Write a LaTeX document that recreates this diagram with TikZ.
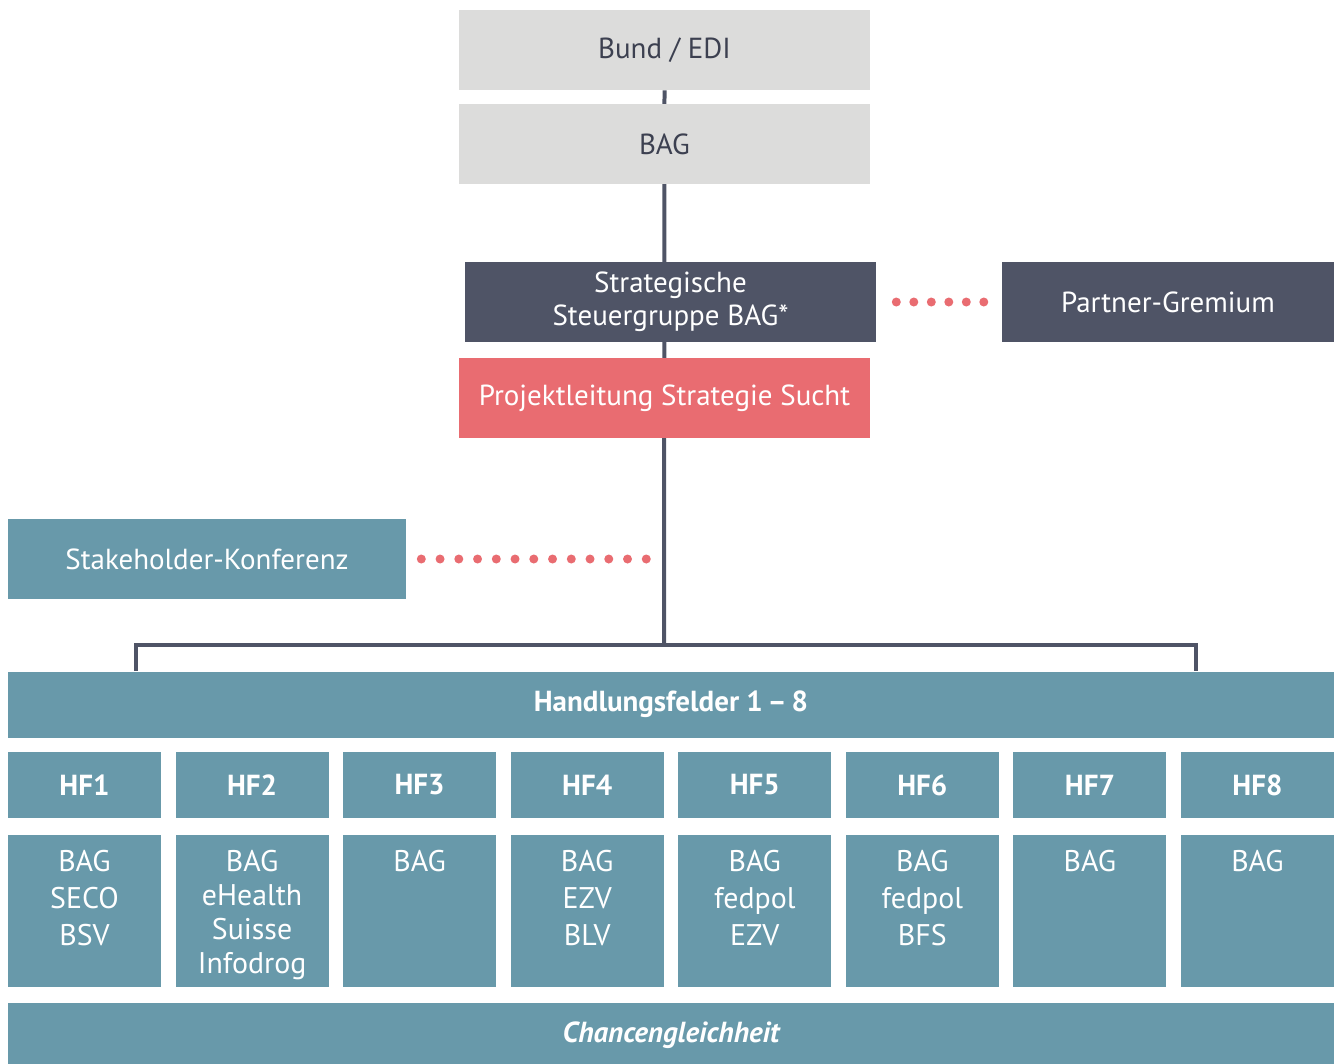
\documentclass[tikz,border=0pt]{standalone}
\usepackage{fontspec}
\setmainfont{PT Sans}
\usetikzlibrary{backgrounds}

\definecolor{boxgray}{HTML}{DCDCDB}
\definecolor{darkslate}{HTML}{4F5466}
\definecolor{salmon}{HTML}{E96C71}
\definecolor{teal}{HTML}{6899AA}
\definecolor{inkgray}{HTML}{3C4050}

\tikzset{
	box/.style={rectangle, inner sep=0pt, minimum height=1.6cm, align=center, font=\fontsize{16.5}{18.7}\selectfont},
	graybox/.style={box, fill=boxgray, text=inkgray, minimum width=8.22cm},
	darkbox/.style={box, fill=darkslate, text=white},
	tealbox/.style={box, fill=teal, text=white},
	hfbox/.style={tealbox, minimum width=3.06cm, minimum height=1.32cm, font=\fontsize{16.5}{18.7}\bfseries\selectfont},
	hfdetail/.style={tealbox, minimum width=3.06cm, minimum height=3.04cm},
	hftext/.style={inner sep=0pt, anchor=north, align=center, text=white, font=\fontsize{17}{21}\selectfont},
	conn/.style={draw=darkslate, line width=0.08cm},
	dots/.style={draw=salmon, line width=0.18cm, line cap=round, dash pattern=on 0pt off #1},
}

\begin{document}
\begin{tikzpicture}[x=0.02cm, y=-0.02cm]
	\useasboundingbox (0,0) rectangle (1339,1063);

	% top of the hierarchy
	\node[graybox]	(bund)	at (664.5,50)	{Bund / EDI};
	\node[graybox]	(bag)	at (664.5,144)	{BAG};

	% steering and project management
	\node[darkbox, minimum width=8.22cm]	(steuer)	at (670.5,302)	{Strategische\\Steuergruppe BAG*};
	\node[darkbox, minimum width=6.64cm]	(partner)	at (1168,302)	{Partner-Gremium};
	\node[box, fill=salmon, text=white, minimum width=8.22cm]	(projekt)	at (664.5,398)	{Projektleitung Strategie Sucht};

	% stakeholder
	\node[tealbox, minimum width=7.96cm]	(stake)	at (207,559)	{Stakeholder-Konferenz};

	% fields of action
	\node[tealbox, minimum width=26.52cm, minimum height=1.32cm, font=\fontsize{16.5}{18.7}\bfseries\selectfont]
		(hfall)	at (671,704.5)	{Handlungsfelder 1\,--\,8};
	\node[tealbox, minimum width=26.52cm, minimum height=1.3cm, font=\fontsize{16.5}{18.7}\bfseries\itshape\selectfont]
		(chance)	at (671,1035.5)	{Chancengleichheit};

	\foreach \i/\who in {1/{BAG\\SECO\\BSV}, 2/{BAG\\[-0.2ex]eHealth\\[-0.2ex]Suisse\\[-0.2ex]Infodrog}, 3/{BAG},
			4/{BAG\\EZV\\BLV}, 5/{BAG\\fedpol\\EZV}, 6/{BAG\\fedpol\\BFS}, 7/{BAG}, 8/{BAG}} {
		\node[hfbox]	(hf\i)	at ({84.5+(\i-1)*167.57},785)	{HF\i};
		\node[hfdetail]	(hfd\i)	at ({84.5+(\i-1)*167.57},911)	{};
		\node[hftext]	(hft\i)	at ([yshift=-0.3cm]hfd\i.north)	{\who};
	}

	% connectors
	\coordinate (junction)	at (664,645);
	\coordinate (left)	at (136,645);
	\coordinate (right)	at (1196,645);
	\coordinate (stakeend)	at (664,559);
	\begin{scope}[on background layer]
		\draw[conn]	(bund.south) -- (junction);
		\draw[conn]	(left |- hfall.north) -- (left) -- (right) -- (right |- hfall.north);
	\end{scope}

	% dotted links
	\draw[dots=0.35cm, shorten <=0.4cm, shorten >=0.34cm]	(steuer.east) -- (partner.west);
	\draw[dots=0.375cm, shorten <=0.3cm, shorten >=0.32cm]	(stake.east) -- (stakeend);
\end{tikzpicture}
\end{document}
